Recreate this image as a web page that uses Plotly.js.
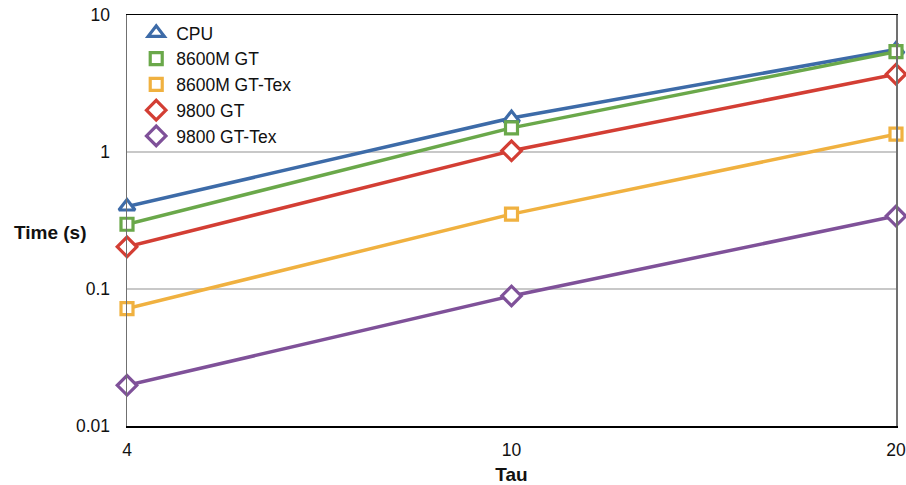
<!DOCTYPE html>
<html>
<head>
<meta charset="utf-8">
<script src="https://cdn.plot.ly/plotly-3.0.1.min.js"></script>
<style>html,body{margin:0;padding:0;background:#fff;}#chart{width:906px;height:485px;}</style>
</head>
<body>
<div id="chart"></div>
<script>
const tau = ["4", "10", "20"];
const seriesNames = ["CPU", "8600M GT", "8600M GT-Tex", "9800 GT", "9800 GT-Tex"];
const cpu = [0.40, 1.77, 5.6];
const gt8600m = [0.297, 1.50, 5.4];
const gt8600mTex = [0.072, 0.352, 1.35];
const gt9800 = [0.203, 1.02, 3.7];
const gt9800Tex = [0.0198, 0.089, 0.341];
const yTickVals = [0.01, 0.1, 1, 10];
const yTickText = ["0.01", "0.1", "1", "10"];

const colors = ["#3D6BA8", "#6AA84A", "#F0B140", "#D33E34", "#7F5199"];
const symbols = ["triangle-up", "square", "square", "diamond", "diamond"];
const values = [cpu, gt8600m, gt8600mTex, gt9800, gt9800Tex];

function markerFor(i) {
  return {symbol: symbols[i], size: symbols[i] === "diamond" ? 15 : (symbols[i] === "square" ? 12 : 14),
          color: "#ffffff", line: {color: colors[i], width: 3.2}};
}

const traces = values.map((v, i) => ({
  x: tau, y: v, name: seriesNames[i], type: "scatter", mode: "lines+markers",
  line: {color: colors[i], width: 3.5},
  marker: markerFor(i), showlegend: false, cliponaxis: false
}));
const legendTraces = values.map((v, i) => ({
  x: [null], y: [null], name: seriesNames[i], type: "scatter", mode: "markers",
  marker: markerFor(i), showlegend: true
}));

const layout = {
  width: 906, height: 485,
  margin: {l: 127, r: 10, t: 15, b: 59},
  paper_bgcolor: "#fff", plot_bgcolor: "#fff",
  font: {family: "Liberation Sans, Arial, sans-serif", size: 18, color: "#111"},
  showlegend: true,
  legend: {x: 0.012, y: 1.0, xanchor: "left", yanchor: "top", bgcolor: "rgba(0,0,0,0)",
           font: {size: 17.5, color: "#111"}, tracegroupgap: 0},
  xaxis: {type: "category", range: [0, 2], showgrid: false, zeroline: false,
          showline: true, linecolor: "#000", linewidth: 1.5, mirror: true,
          ticks: "", ticklabelstandoff: 7, tickfont: {size: 17.5},
          title: {text: "<b>Tau</b>", font: {size: 19, color: "#111"}, standoff: 10}},
  yaxis: {type: "log", range: [-2, 1], tickvals: yTickVals, ticktext: yTickText,
          showgrid: true, gridcolor: "#c8c8c8", gridwidth: 1.3, zeroline: false,
          showline: true, linecolor: "#707070", linewidth: 1.5, mirror: true,
          ticks: "", ticklabelstandoff: 12, tickfont: {size: 17.5}},
  annotations: [{text: "<b>Time (s)</b>", xref: "paper", yref: "paper", x: -0.100, y: 0.472,
                 xanchor: "center", yanchor: "middle", showarrow: false,
                 font: {size: 19, color: "#111"}}]
};

Plotly.newPlot("chart", traces.concat(legendTraces), layout, {displayModeBar: false, staticPlot: true});
</script>
</body>
</html>
